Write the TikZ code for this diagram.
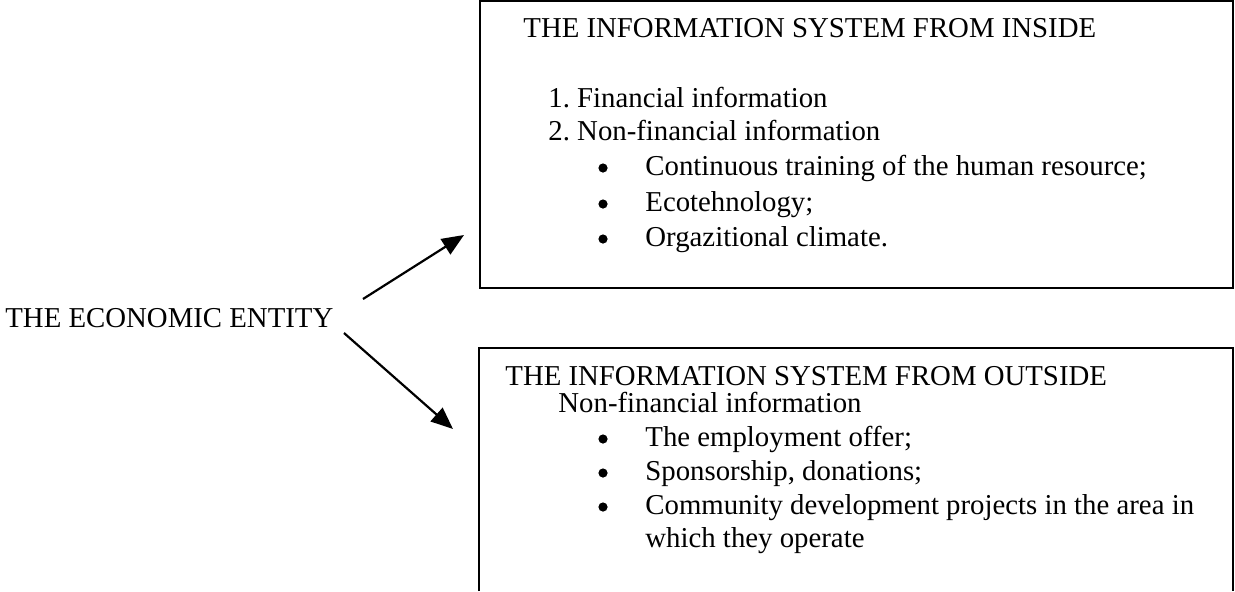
\documentclass[tikz,border=0pt]{standalone}
\usepackage{fontspec}
\setmainfont{Liberation Serif}
\usetikzlibrary{arrows.meta}
\frenchspacing
\begin{document}
\begin{tikzpicture}
		[x=0.5pt,y=-0.5pt,
		boxstyle/.style={draw=black,line width=1pt},
		textstyle/.style={anchor=base west,inner sep=0pt,font=\fontsize{14.4}{17.3}\selectfont},
		bulletstyle/.style={circle,fill=black,inner sep=0pt,minimum size=4.6pt},
		edgestyle/.style={-{Triangle[length=11pt,width=9pt]},line width=1.1pt}]
		\useasboundingbox (0,0) rectangle (1235,591);
		% boxes
		\draw[boxstyle] (480,1) rectangle (1233,288);
		\draw[boxstyle] (479,591) |- (1233,348) -- (1233,591);
		% left
		\node at (5,327) (entity) [textstyle] {THE ECONOMIC ENTITY};
		% inside
		\node at (523,37) (intitle) [textstyle] {THE INFORMATION SYSTEM FROM INSIDE};
		\node at (548,107) (infin) [textstyle] {1. Financial information};
		\node at (548,140) (innonfin) [textstyle] {2. Non-financial information};
		\node at (603,168) (inb1) [bulletstyle] {};
		\node at (645,175) (init1) [textstyle] {Continuous training of the human resource;};
		\node at (603,204) (inb2) [bulletstyle] {};
		\node at (645,211) (init2) [textstyle] {Ecotehnology;};
		\node at (603,239) (inb3) [bulletstyle] {};
		\node at (645,246) (init3) [textstyle] {Orgazitional climate.};
		% outside
		\node at (505,385) (outtitle) [textstyle] {THE INFORMATION SYSTEM FROM OUTSIDE};
		\node at (558,412) (outnonfin) [textstyle] {Non-financial information};
		\node at (603,439) (outb1) [bulletstyle] {};
		\node at (645,446) (outit1) [textstyle] {The employment offer;};
		\node at (603,473) (outb2) [bulletstyle] {};
		\node at (645,480) (outit2) [textstyle] {Sponsorship, donations;};
		\node at (603,507) (outb3) [bulletstyle] {};
		\node at (645,514) (outit3) [textstyle] {Community development projects in the area in};
		\node at (645,547) (outit4) [textstyle] {which they operate};
		% arrows
		\coordinate (upstart) at (363,299);
		\coordinate (uptip) at (464,235);
		\coordinate (downstart) at (344,333);
		\coordinate (downtip) at (453,429);
		\draw[edgestyle] (upstart) -- (uptip);
		\draw[edgestyle] (downstart) -- (downtip);
	\end{tikzpicture}
\end{document}
